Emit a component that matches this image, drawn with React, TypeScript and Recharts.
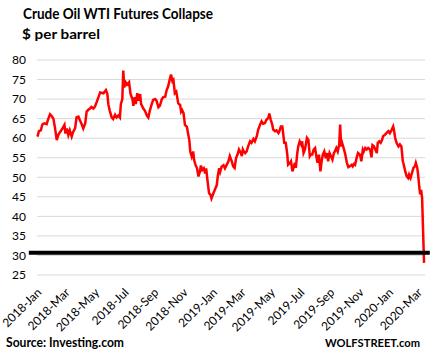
import React from "react";
import {
  LineChart,
  Line,
  XAxis,
  YAxis,
  CartesianGrid,
  ReferenceLine,
} from "recharts";

// days since 2018-01-01
const tradeDay = [
  1, 4, 8, 11, 15, 20, 23, 27, 30, 34, 37, 41, 44, 48, 53, 57, 59, 62, 65, 68,
  72, 75, 79, 82, 86, 89, 93, 96, 100, 103, 106, 110, 113, 117, 120, 124, 127,
  131, 138, 143, 146, 148, 151, 155, 158, 162, 165, 169, 172, 174, 177, 179,
  181, 184, 187, 191, 194, 198, 200, 203, 205, 208, 211, 214, 216, 221, 224,
  228, 231, 234, 238, 241, 245, 248, 252, 255, 259, 262, 266, 269, 272, 276,
  278, 281, 283, 286, 289, 293, 297, 299, 301, 304, 307, 311, 314, 316, 318,
  321, 324, 326, 329, 332, 335, 338, 340, 343, 346, 349, 351, 354, 357, 360,
  362, 366, 369, 373, 375, 378, 380, 383, 387, 390, 394, 397, 400, 404, 407,
  410, 413, 416, 419, 423, 425, 427, 429, 432, 435, 438, 442, 445, 449, 452,
  456, 459, 463, 466, 469, 473, 476, 480, 482, 485, 488, 490, 494, 497, 501,
  503, 506, 509, 511, 513, 516, 519, 521, 525, 527, 530, 533, 535, 537, 540,
  542, 545, 548, 550, 553, 556, 560, 563, 566, 568, 571, 574, 577, 579, 582,
  585, 588, 591, 593, 596, 599, 602, 604, 607, 610, 613, 616, 618, 621, 624,
  627, 629, 631, 633, 636, 639, 643, 646, 649, 653, 655, 658, 660, 663, 666,
  670, 673, 676, 678, 681, 684, 687, 691, 694, 696, 699, 702, 705, 707, 710,
  713, 716, 718, 722, 725, 729, 732, 736, 739, 741, 743, 746, 750, 753, 756,
  759, 761, 764, 767, 770, 772, 775, 778, 781, 784, 786, 789, 791, 793, 795,
  797, 799, 803,
];

const wtiPrice = [
  60.4, 61.8, 62, 63.5, 63.8, 63.6, 64.8, 66.1, 65.7, 65.0, 62.9, 59.5, 60.8,
  61.6, 62.5, 63.4, 61.2, 62.5, 60.8, 62, 60.4, 61.6, 62.5, 65.3, 65.5, 64.6,
  63.5, 62.5, 63.8, 66.8, 67.2, 67.6, 68.0, 67.6, 68, 69.3, 70.3, 71.7, 71.5,
  72.3, 71.3, 68.7, 67, 65.3, 64.9, 66, 65.3, 65.8, 65.3, 68.7, 70, 77.3, 73,
  74.3, 73.7, 74.3, 71.3, 70, 68.3, 70.5, 68.7, 71.5, 69.6, 71.3, 68.7, 67.5,
  67, 65.8, 65.3, 67, 68.7, 69.8, 70, 69.6, 67.9, 68.3, 70, 70.5, 70.6, 72.3,
  73.2, 75.3, 76.3, 74.6, 74.9, 71.5, 71.9, 68.9, 68.5, 66.8, 67.2, 66.4, 63.4,
  62.9, 60.8, 59.5, 56.6, 55.3, 56.6, 54.4, 53.1, 52.3, 50.2, 51.4, 53, 51.9,
  52.3, 51, 52.3, 48.9, 45.9, 45.5, 44.6, 45.9, 46.8, 48, 50.2, 52.3, 51.4,
  52.7, 53.1, 52.3, 53.3, 54, 55.4, 54.1, 52.8, 52.4, 54.9, 55.8, 57.1, 56.2,
  55.4, 57.1, 56.6, 56.2, 56.6, 57.9, 59.2, 58.8, 59.8, 59.2, 60.5, 62.2, 63.5,
  64.3, 63.7, 63.9, 64.7, 65.2, 66.3, 64.7, 63.5, 62.2, 61.8, 62, 61.3, 61.8,
  63, 63, 60.9, 58.8, 58.8, 56.2, 53.2, 53.7, 54.1, 51.5, 52.8, 53.7, 52.4,
  56.2, 57.9, 59.2, 58.4, 59.2, 56.2, 57.1, 60.1, 59.6, 55.4, 55.8, 55.8, 57.1,
  57.5, 55.8, 53.7, 55.8, 51.5, 54.5, 55.8, 56.6, 54.9, 56.2, 54.1, 56.2, 55.4,
  54.5, 56.2, 56.6, 57.5, 56.6, 58.4, 63.5, 57.9, 58.8, 57.5, 56.2, 53.7, 52.6,
  52.8, 53.2, 52.8, 53.4, 53.2, 54.9, 56.2, 55.8, 54.1, 57.1, 56.6, 57.5, 57.1,
  57.5, 57.1, 55.1, 58.2, 57.9, 57.1, 56.2, 58.8, 59.2, 58.8, 59.6, 60.5, 60.9,
  61.3, 61.8, 61.3, 62.2, 63, 61.8, 60.1, 58.8, 57.9, 58.4, 57.9, 54.1, 53.2,
  51.5, 50.3, 49.8, 50.7, 49.8, 51.1, 52.4, 52.8, 53.7, 52.4, 50.3, 47.7, 45.6,
  46.8, 44.7, 28.1,
];

const monthTicks = [0, 59, 120, 181, 243, 304, 365, 424, 485, 546, 608, 669, 730, 790];
const monthLabels = [
  "2018-Jan", "2018-Mar", "2018-May", "2018-Jul", "2018-Sep", "2018-Nov",
  "2019-Jan", "2019-Mar", "2019-May", "2019-Jul", "2019-Sep", "2019-Nov",
  "2020-Jan", "2020-Mar",
];
const priceTicks = [25, 30, 35, 40, 45, 50, 55, 60, 65, 70, 75, 80];
const collapseLevel = 30.7;

const data = tradeDay.map((day, i) => ({ day, price: wtiPrice[i] }));

const FONT = "Lato, 'Open Sans', sans-serif";

const MonthTick = ({ x, y, payload }: any) => {
  const label = monthLabels[monthTicks.indexOf(payload.value)];
  const tx = x + 2;
  const ty = y + 15;
  return (
    <text
      x={tx}
      y={ty}
      transform={`rotate(-45, ${tx}, ${ty})`}
      textAnchor="end"
      dominantBaseline="central"
      fontSize={12}
      fontFamily={FONT}
      fill="#000"
    >
      {label}
    </text>
  );
};

// Calibri-like squeeze: fixed pixel widths
const Caption = ({ x, y, size, width, anchor, children }: any) => (
  <text
    x={x}
    y={y}
    fontSize={size}
    fontWeight="bold"
    fontFamily={FONT}
    fill="#000"
    textAnchor={anchor || "start"}
    textLength={width}
    lengthAdjust="spacingAndGlyphs"
  >
    {children}
  </text>
);

export default function App() {
  return (
    <div
      style={{
        position: "absolute",
        left: 0,
        top: 0,
        width: 431,
        height: 355,
        background: "#fff",
        fontFamily: FONT,
      }}
    >
      <LineChart
        width={431}
        height={355}
        data={data}
        margin={{ top: 60, right: 6, bottom: 0, left: 7 }}
      >
        <CartesianGrid vertical={false} stroke="#d9d9d9" strokeWidth={1} />
        <XAxis
          dataKey="day"
          type="number"
          domain={[0, 805]}
          ticks={monthTicks}
          interval={0}
          axisLine={false}
          tickLine={false}
          tickSize={0}
          tickMargin={0}
          height={80}
          tick={<MonthTick />}
        />
        <YAxis
          type="number"
          domain={[25, 80]}
          ticks={priceTicks}
          interval={0}
          axisLine={false}
          tickLine={false}
          tickSize={0}
          tickMargin={11}
          width={30}
          tick={{ fontSize: 12, fill: "#000", fontFamily: FONT }}
        />
        <Line
          type="linear"
          dataKey="price"
          stroke="#ff0000"
          strokeWidth={2.5}
          dot={false}
          isAnimationActive={false}
        />
        <ReferenceLine
          segment={[
            { x: -17, y: collapseLevel },
            { x: 815, y: collapseLevel },
          ]}
          ifOverflow="visible"
          stroke="#000"
          strokeWidth={4}
        />
      </LineChart>
      <svg
        width={431}
        height={355}
        style={{ position: "absolute", left: 0, top: 0, pointerEvents: "none" }}
      >
        <Caption x={23} y={18.5} size={16} width={190}>
          Crude Oil WTI Futures Collapse
        </Caption>
        <Caption x={22} y={38.5} size={12.5} width={78}>
          $ per barrel
        </Caption>
        <Caption x={6} y={347} size={12.5} width={118}>
          Source: Investing.com
        </Caption>
        <Caption x={420} y={347} size={12} width={95} anchor="end">
          WOLFSTREET.com
        </Caption>
      </svg>
    </div>
  );
}
